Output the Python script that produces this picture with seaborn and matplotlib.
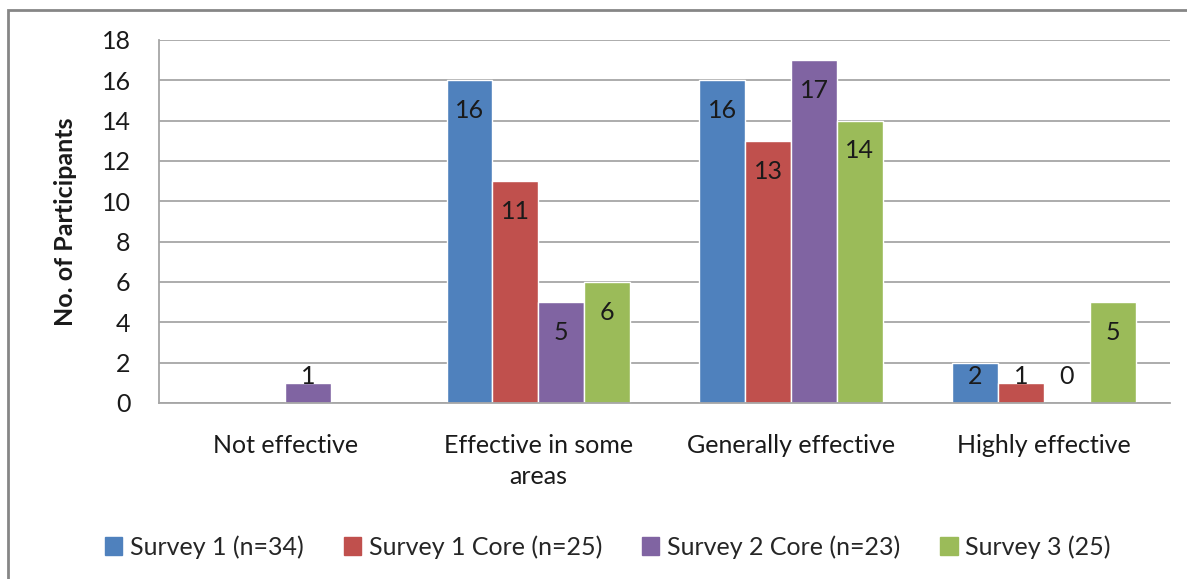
import numpy as np
import pandas as pd
import seaborn as sns
import matplotlib.pyplot as plt
from matplotlib.patches import Rectangle, Patch

# Data (blank cells in the source are NaN)
categories = ["Not effective", "Effective in some\nareas", "Generally effective", "Highly effective"]
series = ["Survey 1 (n=34)", "Survey 1 Core (n=25)", "Survey 2 Core (n=23)", "Survey 3 (25)"]
survey1 = [np.nan, 16, 16, 2]
survey1_core = [np.nan, 11, 13, 1]
survey2_core = [1, 5, 17, 0]
survey3 = [np.nan, 6, 14, 5]
colors = ["#4F81BD", "#C0504D", "#8064A2", "#9BBB59"]

df = pd.DataFrame({
    "category": categories * 4,
    "series": np.repeat(series, 4),
    "value": survey1 + survey1_core + survey2_core + survey3,
}).dropna()

sns.set_theme(style="white")
plt.rcParams['font.family'] = ['Lato', 'DejaVu Sans']

fig = plt.figure(figsize=(11.87, 5.79), dpi=100)
ax = fig.add_axes([0.134, 0.304, 0.852, 0.627])

sns.barplot(data=df, x="category", y="value", hue="series", order=categories,
            hue_order=series, palette=colors, width=0.725, saturation=1,
            errorbar=None, ax=ax, legend=False)

# Data labels inside the bar ends
for cont in ax.containers:
    for bar in cont:
        h = bar.get_height()
        ax.text(bar.get_x() + bar.get_width() / 2, max(h - 1.5, 1.3), f"{h:.0f}",
                ha="center", va="center", fontsize=18, color="#1a1a1a")

ax.set_ylim(0, 18)
ax.set_yticks(range(0, 19, 2))
ax.grid(axis="y", color="#A6A6A6", lw=1.3)
ax.set_axisbelow(True)
for s in ["top", "right"]:
    ax.spines[s].set_visible(False)
for s in ["left", "bottom"]:
    ax.spines[s].set_color("#A6A6A6")
    ax.spines[s].set_linewidth(1.3)
ax.tick_params(axis="y", length=6.5, width=1.3, color="#A6A6A6", pad=14, labelsize=18, labelcolor="#1a1a1a")
ax.tick_params(axis="x", length=0, pad=22, labelsize=18, labelcolor="#1a1a1a")
for lbl in ax.get_xticklabels():
    lbl.set_linespacing(1.45)
ax.set_xlabel("")
ax.set_ylabel("No. of Participants", fontsize=18, fontweight="bold", color="#1a1a1a")
ax.yaxis.set_label_coords(-0.081, 0.5)

handles = [Patch(color=c) for c in colors]
fig.legend(handles, series, loc="center", bbox_to_anchor=(0.512, 0.055), ncol=4,
           frameon=False, fontsize=18, handlelength=0.7, handleheight=0.7,
           handletextpad=0.3, columnspacing=1.6)

# Outer chart border
fig.patches.append(Rectangle((8 / 1187, -0.05), 1.1, 1 - 10 / 579 + 0.05, transform=fig.transFigure,
                             fill=False, edgecolor="#868686", lw=2))

fig.savefig("out.png", dpi=100)
